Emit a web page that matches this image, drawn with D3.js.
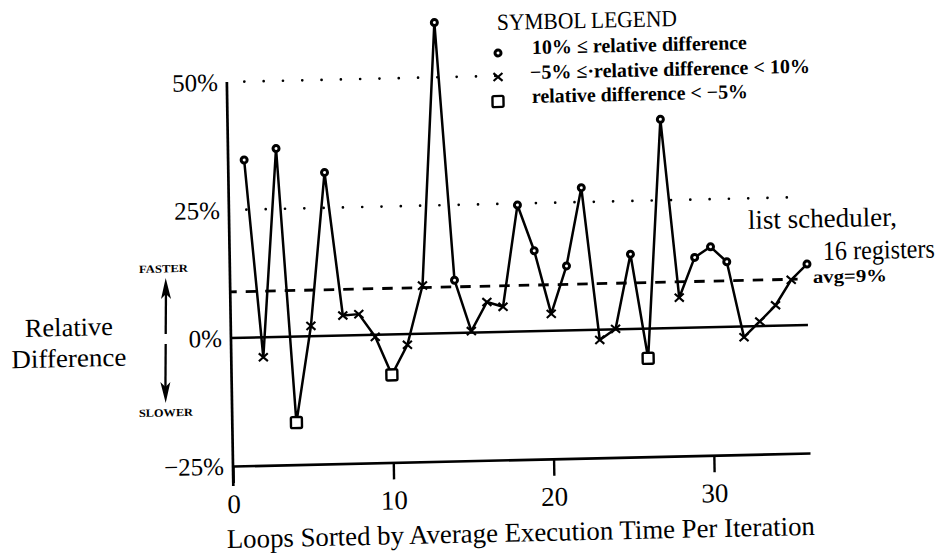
<!DOCTYPE html>
<html>
<head>
<meta charset="utf-8">
<title>Relative difference - list scheduler, 16 registers</title>
<script src="https://cdn.jsdelivr.net/npm/d3@7"></script>
<style>
  body { margin: 0; background: #fff; }
  svg { display: block; font-family: "Liberation Serif", "Times New Roman", serif; }
</style>
</head>
<body>
<svg id="chart" width="952" height="559"></svg>
<script>
// loops sorted by average execution time per iteration
var loops = [1, 2, 3, 4, 5, 6, 7, 8, 9, 10, 11, 12, 13, 14, 15, 16, 17, 18,
             19, 20, 21, 22, 23, 24, 25, 26, 27, 28, 29, 30, 31, 32, 33, 34, 35, 36];
// relative difference (%)
var relDiff = [34.7, -3.9, 36.8, -16.8, 2.0, 31.9, 3.9, 4.1, -0.4, -7.9, -2.1, 9.4,
               60.7, 10.3, 0.3, 5.9, 4.9, 24.7, 15.7, 3.3, 12.6, 27.8, -2.0, 0.1,
               14.6, -5.8, 40.8, 5.9, 13.7, 15.7, 12.7, -2.1, 0.9, 4.0, 8.9, 11.9];
var avgDiff = 9;
var xTicks = [0, 10, 20, 30];
var yTicks = [-25, 0, 25, 50];
var yTickLabels = ["\u221225%", "0%", "25%", "50%"];
var dottedLevels = [50, 25];
var dottedEnds = [17.85, 36];
var legendSymbols = ["circle", "cross", "square"];
var legendLabels = ["10% \u2264 relative difference",
                    "\u22125% \u2264\u00b7relative difference < 10%",
                    "relative difference < \u22125%"];

function symbolOf(v) {
  if (v >= 10) return "circle";
  if (v >= -5) return "cross";
  return "square";
}

// the scanned figure is a little tilted, so everything lives in a skewed group
var scan = new DOMMatrix([1, -0.0225, 0.016, 1, -7.456, 5.2425]);
var unscan = scan.inverse();
function at(sx, sy) {
  var p = unscan.transformPoint(new DOMPoint(sx, sy));
  return [p.x, p.y];
}

var svg = d3.select("#chart");
svg.append("rect").attr("width", 952).attr("height", 559).attr("fill", "#fff");
var g = svg.append("g")
  .attr("transform", "matrix(1,-0.0225,0.016,1,-7.456,5.2425)");

var x = d3.scaleLinear().domain([0, 36]).range([233, 810]);
var y = d3.scaleLinear().domain([-25, 50]).range([466, 82]);

// reference lines
dottedLevels.forEach(function (v, i) {
  g.append("line")
    .attr("x1", x(0)).attr("x2", x(dottedEnds[i]))
    .attr("y1", y(v)).attr("y2", y(v))
    .attr("stroke", "#000").attr("stroke-width", 2.7)
    .attr("stroke-linecap", "round")
    .attr("stroke-dasharray", "0 19.3")
    .attr("stroke-dashoffset", -17.5);
});
g.append("line")
  .attr("x1", x(0)).attr("x2", x(35.4))
  .attr("y1", y(avgDiff)).attr("y2", y(avgDiff))
  .attr("stroke", "#000").attr("stroke-width", 2.8)
  .attr("stroke-dasharray", "10.5 9")
  .attr("stroke-dashoffset", 4);
g.append("line")
  .attr("x1", x(0)).attr("x2", x(36))
  .attr("y1", y(0)).attr("y2", y(0))
  .attr("stroke", "#000").attr("stroke-width", 2.5);

// axes
var xAxis = g.append("g")
  .attr("transform", "translate(0," + y(-25) + ")")
  .call(d3.axisBottom(x).tickValues(xTicks).tickSize(17).tickSizeOuter(0).tickFormat(d3.format("d")));
xAxis.select(".domain").attr("stroke-width", 2.7);
xAxis.selectAll(".tick line").attr("stroke-width", 2.4);
xAxis.selectAll(".tick text")
  .attr("y", 47).attr("dy", null)
  .attr("font-family", "Liberation Serif").attr("font-size", 27);

var yAxis = g.append("g")
  .attr("transform", "translate(" + x(0) + ",0)")
  .call(d3.axisLeft(y).tickValues(yTicks).tickSize(0).tickPadding(9)
    .tickFormat(function (d, i) { return yTickLabels[i]; }));
yAxis.select(".domain").remove();
yAxis.selectAll(".tick text")
  .attr("font-family", "Liberation Serif").attr("font-size", 25);
g.append("line")
  .attr("x1", x(0)).attr("x2", x(0))
  .attr("y1", y(50)).attr("y2", y(-25) + 20)
  .attr("stroke", "#000").attr("stroke-width", 2.7);

// data line
var line = d3.line()
  .x(function (d, i) { return x(loops[i]); })
  .y(function (d) { return y(d); });
g.append("path")
  .datum(relDiff)
  .attr("d", line)
  .attr("fill", "none").attr("stroke", "#000")
  .attr("stroke-width", 2.5).attr("stroke-linejoin", "round");

function drawMarker(sel, type) {
  if (type === "circle") {
    sel.append("circle").attr("r", 3)
      .attr("fill", "#fff").attr("stroke", "#000").attr("stroke-width", 3);
  } else if (type === "cross") {
    sel.append("path").attr("d", "M-4.5,-4L4.5,4M-4.5,4L4.5,-4")
      .attr("stroke", "#000").attr("stroke-width", 2.1).attr("fill", "none");
  } else {
    sel.append("rect").attr("x", -5.5).attr("y", -5.5)
      .attr("width", 11).attr("height", 11).attr("rx", 1.5)
      .attr("fill", "#fff").attr("stroke", "#000").attr("stroke-width", 2.4);
  }
}

g.selectAll("g.mark")
  .data(relDiff)
  .enter().append("g")
  .attr("class", "mark")
  .attr("transform", function (d, i) { return "translate(" + x(loops[i]) + "," + y(d) + ")"; })
  .each(function (d) { drawMarker(d3.select(this), symbolOf(d)); });

// text helpers
function label(sx, sy, txt, size, opts) {
  opts = opts || {};
  var p = at(sx, sy);
  var t = g.append("text")
    .attr("x", p[0]).attr("y", p[1])
    .attr("font-size", size)
    .attr("font-weight", opts.bold ? "bold" : "normal")
    .attr("text-anchor", opts.anchor || "start")
    .text(txt);
  if (opts.width) t.attr("textLength", opts.width).attr("lengthAdjust", "spacingAndGlyphs");
  return t;
}

// legend
label(497, 30, "SYMBOL LEGEND", 23, { width: 180 });
var legendRows = [[53, 532, 54, 215], [77, 530, 79, 280], [101.5, 532, 103, 216]];
legendLabels.forEach(function (txt, i) {
  var r = legendRows[i];
  var p = at(498, r[0]);
  var m = g.append("g").attr("transform", "translate(" + p[0] + "," + p[1] + ")");
  drawMarker(m, legendSymbols[i]);
  label(r[1], r[2], txt, 20, { bold: true, width: r[3] });
});

// series annotation
label(748, 229, "list scheduler,", 27, { width: 149 });
label(823, 260, "16 registers", 27, { width: 112 });
label(813, 283, "avg=9%", 18, { bold: true, width: 74 });

// y title with faster / slower arrows
label(69, 336, "Relative", 26, { anchor: "middle", width: 88 });
label(69, 367, "Difference", 26, { anchor: "middle", width: 115 });
label(139, 273, "FASTER", 11, { bold: true, width: 49 });
label(139, 417, "SLOWER", 11, { bold: true, width: 54 });

function arrow(sx, yTail, yTip) {
  var a = at(sx, yTail), b = at(sx, yTip);
  var dir = yTip < yTail ? -1 : 1;
  g.append("line")
    .attr("x1", a[0]).attr("y1", a[1]).attr("x2", b[0]).attr("y2", b[1] - dir * 16)
    .attr("stroke", "#000").attr("stroke-width", 2.3);
  g.append("path")
    .attr("d", "M" + b[0] + "," + b[1] +
               "L" + (b[0] - 5) + "," + (b[1] - dir * 21) +
               "L" + b[0] + "," + (b[1] - dir * 16) +
               "L" + (b[0] + 5) + "," + (b[1] - dir * 21) + "Z")
    .attr("fill", "#000");
}
arrow(165.7, 334, 278);
arrow(165.7, 344, 403);

// x title
label(521, 541.5, "Loops Sorted by Average Execution Time Per Iteration", 27,
      { anchor: "middle", width: 588 });
</script>
</body>
</html>
